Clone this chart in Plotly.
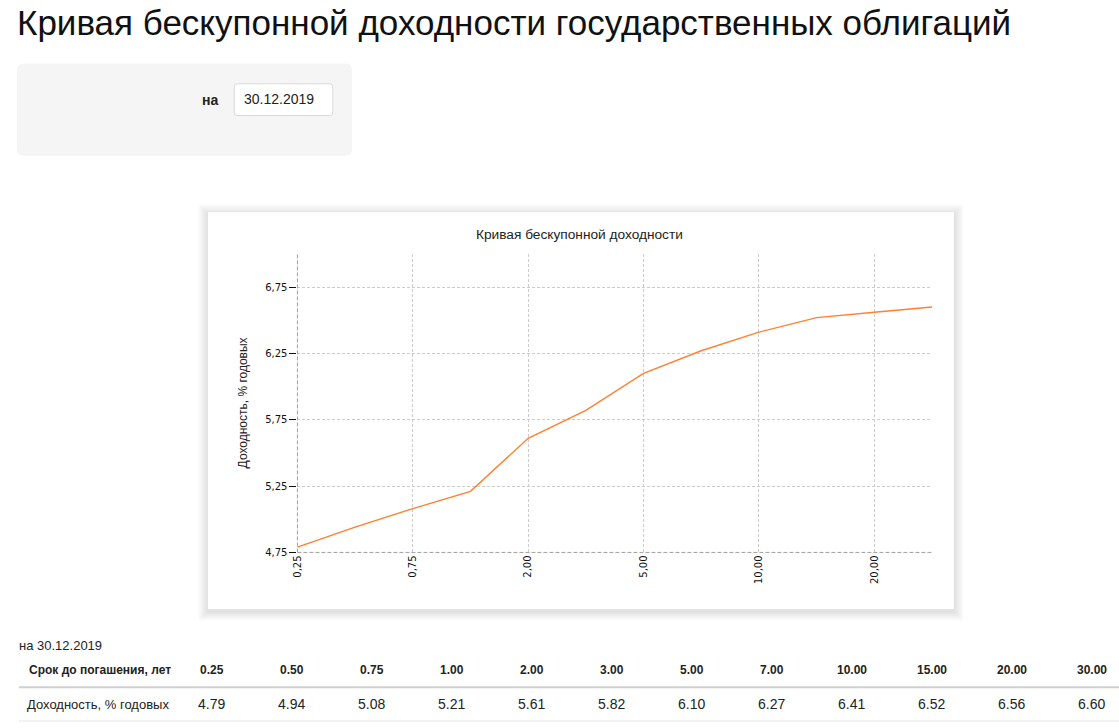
import plotly.graph_objects as go

W, H = 1119, 728

# ---- data ----
terms = [0.25, 0.50, 0.75, 1.00, 2.00, 3.00, 5.00, 7.00, 10.00, 15.00, 20.00, 30.00]
yields = [4.79, 4.94, 5.08, 5.21, 5.61, 5.82, 6.10, 6.27, 6.41, 6.52, 6.56, 6.60]
y_ticks = [4.75, 5.25, 5.75, 6.25, 6.75]
page_title = "Кривая бескупонной доходности государственных облигаций"
chart_title = "Кривая бескупонной доходности"
y_title = "Доходность, % годовых"
date_label = "на"
date_str = "30.12.2019"
row_head_term = "Срок до погашения, лет"
row_head_yield = "Доходность, % годовых"

FONT = "Liberation Sans, Arial"
TICKFONT = "DejaVu Sans, Verdana"


def px(x):
    return x / W


def py(y):
    return 1 - y / H


def rrect(x0, y0, x1, y1, r):
    return (f"M {px(x0 + r)},{py(y0)} L {px(x1 - r)},{py(y0)} "
            f"Q {px(x1)},{py(y0)} {px(x1)},{py(y0 + r)} L {px(x1)},{py(y1 - r)} "
            f"Q {px(x1)},{py(y1)} {px(x1 - r)},{py(y1)} L {px(x0 + r)},{py(y1)} "
            f"Q {px(x0)},{py(y1)} {px(x0)},{py(y1 - r)} L {px(x0)},{py(y0 + r)} "
            f"Q {px(x0)},{py(y0)} {px(x0 + r)},{py(y0)} Z")


idx = list(range(len(terms)))
fig = go.Figure()
fig.add_trace(go.Scatter(
    x=idx, y=yields, mode="lines",
    line=dict(color="#ff8030", width=1.4),
    hoverinfo="skip", showlegend=False,
))

shapes = []
# card shadow
for k in range(1, 11):
    shapes.append(dict(type="rect", xref="paper", yref="paper", layer="below",
                       x0=px(203 - k), x1=px(953 + k), y0=py(614 + k + 2), y1=py(214 - k + 2),
                       line=dict(width=0), fillcolor="rgba(0,0,0,0.011)"))
shapes.append(dict(type="rect", xref="paper", yref="paper", layer="below",
                   x0=px(203), x1=px(953), y0=py(614), y1=py(214),
                   line=dict(width=0), fillcolor="white"))
# filter box
shapes.append(dict(type="path", xref="paper", yref="paper", layer="below",
                   path=rrect(11, 64, 348, 157, 7), line=dict(width=0), fillcolor="#f5f5f5"))
shapes.append(dict(type="path", xref="paper", yref="paper", layer="below",
                   path=rrect(229.5, 84.5, 328.5, 116.5, 3), line=dict(width=1, color="#d9d9d9"),
                   fillcolor="white"))
# axis lines (dashed, darker)
shapes.append(dict(type="line", xref="x domain", yref="y domain", x0=0, x1=1, y0=0, y1=0,
                   line=dict(color="#a0a0a0", width=1, dash="4px,2px")))
shapes.append(dict(type="line", xref="x domain", yref="y domain", x0=0, x1=0, y0=0, y1=1,
                   line=dict(color="#a0a0a0", width=1, dash="4px,2px")))
# table lines
shapes.append(dict(type="line", xref="paper", yref="paper", x0=px(13), x1=px(1119),
                   y0=py(693), y1=py(693), line=dict(color="#cfcfcf", width=2)))
shapes.append(dict(type="line", xref="paper", yref="paper", x0=px(13), x1=px(1119),
                   y0=py(727), y1=py(727), line=dict(color="#e6e6e6", width=1)))

ann = []
ann.append(dict(text=page_title, x=px(9), y=py(23), xref="paper", yref="paper",
                xanchor="left", yanchor="middle", showarrow=False,
                font=dict(family=FONT, size=35, color="#111")))
ann.append(dict(text=f"<b>{date_label}</b>", x=px(215), y=py(101), xref="paper", yref="paper",
                xanchor="right", yanchor="middle", showarrow=False,
                font=dict(family=FONT, size=14, color="#222")))
ann.append(dict(text=date_str, x=px(237), y=py(100), xref="paper", yref="paper",
                xanchor="left", yanchor="middle", showarrow=False,
                font=dict(family=FONT, size=14, color="#222")))
ann.append(dict(text=chart_title, x=px(577), y=py(236), xref="paper", yref="paper",
                xanchor="center", yanchor="middle", showarrow=False,
                font=dict(family=FONT, size=13.7, color="#222")))
ann.append(dict(text=y_title, x=px(238), y=py(406), xref="paper", yref="paper",
                xanchor="center", yanchor="middle", showarrow=False, textangle=-90,
                font=dict(family=FONT, size=12, color="#222")))
# table
ann.append(dict(text=f"на {date_str}", x=px(11), y=py(651), xref="paper", yref="paper",
                xanchor="left", yanchor="middle", showarrow=False,
                font=dict(family=FONT, size=13, color="#222")))
ann.append(dict(text=f"<b>{row_head_term}</b>", x=px(95), y=py(676), xref="paper", yref="paper",
                xanchor="center", yanchor="middle", showarrow=False,
                font=dict(family=FONT, size=12, color="#222")))
ann.append(dict(text=row_head_yield, x=px(92), y=py(710), xref="paper", yref="paper",
                xanchor="center", yanchor="middle", showarrow=False,
                font=dict(family=FONT, size=13, color="#222")))
for i, (t, v) in enumerate(zip(terms, yields)):
    cx = 207 + 80.4 * i
    ann.append(dict(text=f"<b>{t:.2f}</b>", x=px(cx), y=py(676), xref="paper", yref="paper",
                    xanchor="center", yanchor="middle", showarrow=False,
                    font=dict(family=FONT, size=12, color="#222")))
    ann.append(dict(text=f"{v:.2f}", x=px(cx), y=py(710), xref="paper", yref="paper",
                    xanchor="center", yanchor="middle", showarrow=False,
                    font=dict(family=FONT, size=14, color="#222")))

tick_idx = idx[::2][:6]
fig.update_layout(
    width=W, height=H,
    margin=dict(l=0, r=0, t=0, b=0),
    paper_bgcolor="white", plot_bgcolor="rgba(0,0,0,0)",
    shapes=shapes, annotations=ann,
    xaxis=dict(domain=[px(293), px(931)], range=[0, len(terms) - 1],
               tickvals=tick_idx,
               ticktext=[f"{terms[i]:.2f}".replace(".", ",") for i in tick_idx],
               tickangle=-90, showgrid=True, griddash="3px,2px", gridcolor="#cccccc", gridwidth=1,
               zeroline=False, showline=False, ticks="",
               tickfont=dict(family=TICKFONT, size=10, color="#111")),
    yaxis=dict(domain=[py(557), py(256)], range=[4.75, 7.0],
               tickvals=y_ticks, ticktext=[f"{v:.2f}".replace(".", ",") for v in y_ticks],
               showgrid=True, griddash="3px,2px", gridcolor="#cccccc", gridwidth=1,
               zeroline=False, showline=False, ticks="outside", ticklen=7, tickcolor="#111",
               tickwidth=1,
               tickfont=dict(family=TICKFONT, size=10, color="#111")),
)

post = (
    "document.documentElement.style.margin='0';"
    "document.documentElement.style.overflow='hidden';"
    "document.body.style.margin='0';"
    "document.body.style.overflow='hidden';"
    "var d=document.querySelector('.plotly-graph-div');"
    "if(d){d.style.position='absolute';d.style.left='0px';d.style.top='0px';}"
)
fig.write_html("out.html", config={"displayModeBar": False, "staticPlot": True}, post_script=post)
